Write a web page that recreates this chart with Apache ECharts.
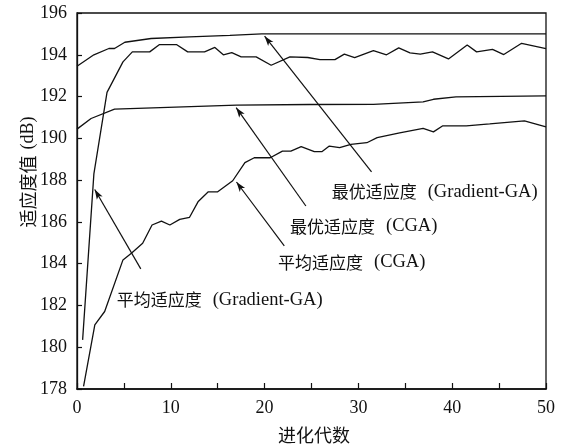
<!DOCTYPE html>
<html>
<head>
<meta charset="utf-8">
<script src="https://cdn.jsdelivr.net/npm/echarts@6/dist/echarts.min.js"></script>
<style>
html,body{margin:0;padding:0;background:#fff;}
#c{width:561px;height:446px;}
</style>
</head>
<body>
<div id="c"></div>
<script>
// ---- data (generation, fitness in dB) ----
const bestGaX = [0, 1.8, 3.4, 4.0, 5.1, 7.9, 12, 16.3, 19.7, 50];
const bestGaY = [193.45, 194.0, 194.3, 194.3, 194.6, 194.78, 194.86, 194.93, 195.0, 195.0];

const avgGaX = [0.6, 1.8, 3.2, 4.9, 5.9, 7.75, 8.8, 10.6, 11.8, 13.6, 14.7, 15.6, 16.5, 17.5, 19.1, 20.7, 22.7, 24.6, 25.9, 27.5, 28.5, 29.6, 31.6, 33.0, 34.3, 35.5, 36.6, 37.9, 39.6, 41.6, 42.6, 44.3, 45.5, 47.4, 50];
const avgGaY = [180.35, 188.3, 192.2, 193.66, 194.14, 194.14, 194.49, 194.49, 194.14, 194.14, 194.35, 194.0, 194.1, 193.9, 193.9, 193.5, 193.9, 193.87, 193.77, 193.77, 194.03, 193.86, 194.2, 194.0, 194.33, 194.09, 194.03, 194.14, 193.8, 194.47, 194.14, 194.26, 194.01, 194.55, 194.3];

const bestCgaX = [0, 1.5, 4.0, 17, 24.8, 31.6, 36.9, 38, 40.4, 50];
const bestCgaY = [190.44, 190.95, 191.4, 191.59, 191.62, 191.63, 191.75, 191.87, 191.98, 192.03];

const avgCgaX = [0.7, 1.9, 2.95, 4.9, 5.8, 7.0, 8.0, 9.0, 9.9, 10.95, 12.0, 12.9, 14.0, 15.0, 16.6, 17.9, 18.9, 20.6, 21.9, 22.8, 23.9, 25.3, 26.1, 26.9, 28.0, 29.2, 30.9, 32.0, 34.4, 36.9, 38.0, 39.0, 41.5, 44.0, 47.7, 50];
const avgCgaY = [178.13, 181.07, 181.71, 184.18, 184.5, 184.98, 185.85, 186.04, 185.85, 186.12, 186.22, 186.96, 187.44, 187.44, 187.97, 188.84, 189.07, 189.07, 189.39, 189.39, 189.6, 189.36, 189.36, 189.63, 189.55, 189.71, 189.79, 190.03, 190.26, 190.48, 190.31, 190.6, 190.6, 190.69, 190.84, 190.55];

// annotation labels and arrows (arrow tail -> tip in data units)
const labelCn = ['最优适应度', '最优适应度', '平均适应度', '平均适应度'];
const labelEn = ['(Gradient-GA)', '(CGA)', '(CGA)', '(Gradient-GA)'];
const arrowTail = [[31.4, 188.39], [24.4, 186.76], [22.1, 184.85], [6.8, 183.75]];
const arrowTip = [[20.0, 194.89], [16.97, 191.47], [17.0, 187.91], [1.89, 187.55]];

const xTicks = { min: 0, max: 50, step: 5 };
const yTicks = { min: 178, max: 196, step: 2 };
const xName = '进化代数';
const yNameCn = '适应度值';
const yNameEn = '(dB)';

function pairs(xs, ys) { return xs.map((x, i) => [x, ys[i]]); }

const SERIF = '"Liberation Serif","Times New Roman",serif';
const CJK = '"Noto Sans CJK SC","Noto Sans CJK JP",sans-serif';

const chart = echarts.init(document.getElementById('c'), null, { renderer: 'canvas' });

const lineStyle = { color: '#111', width: 1.3 };
function mkSeries(name, xs, ys) {
  return { name, type: 'line', data: pairs(xs, ys), showSymbol: false, symbol: 'none',
    lineStyle, itemStyle: { color: '#111' }, silent: true, animation: false };
}

const series = [
  mkSeries('bestGa', bestGaX, bestGaY),
  mkSeries('avgGa', avgGaX, avgGaY),
  mkSeries('bestCga', bestCgaX, bestCgaY),
  mkSeries('avgCga', avgCgaX, avgCgaY),
];
series[0].markLine = {
  silent: true, animation: false,
  symbol: ['none', 'arrow'], symbolSize: [5, 10],
  label: { show: false },
  lineStyle: { color: '#111', width: 1.2, type: 'solid' },
  emphasis: { disabled: true },
  data: arrowTail.map((t, i) => [{ coord: t }, { coord: arrowTip[i] }])
};

const labelPos = [[331.7, 191.7], [290, 226.5], [278, 262.5], [116.7, 300]];
const rich = {
  c: { fontFamily: CJK, fontSize: 17, fill: '#111', padding: [0, 11, 0, 0] },
  l: { fontFamily: SERIF, fontSize: 18.5, fill: '#111' }
};
const graphics = labelCn.map((cn, i) => ({
  type: 'text', x: labelPos[i][0], y: labelPos[i][1], silent: true,
  style: { text: '{c|' + cn + '}{l|' + labelEn[i] + '}', rich, textVerticalAlign: 'middle', textAlign: 'left', fill: '#111' }
}));
graphics.push({
  type: 'text', x: 28, y: 172, rotation: Math.PI / 2, silent: true,
  style: { text: '{c|' + yNameCn + '}{l|' + yNameEn + '}',
    rich: { c: { fontFamily: CJK, fontSize: 18, fill: '#111', padding: [0, 6, 0, 0] }, l: { fontFamily: SERIF, fontSize: 18, fill: '#111' } },
    textAlign: 'center', textVerticalAlign: 'middle', fill: '#111' }
});
graphics.push({
  type: 'text', x: 314, y: 435, silent: true,
  style: { text: xName, font: '18px ' + CJK, textAlign: 'center', textVerticalAlign: 'middle', fill: '#111' }
});

chart.setOption({
  animation: false,
  backgroundColor: '#fff',
  grid: { left: 77, top: 13, width: 469, height: 376, show: true, borderColor: '#111', borderWidth: 1.3, backgroundColor: 'transparent' },
  xAxis: {
    type: 'value', min: xTicks.min, max: xTicks.max, interval: xTicks.step,
    axisLine: { show: true, lineStyle: { color: '#111', width: 1.6 } },
    axisTick: { show: true, inside: true, length: 6, lineStyle: { color: '#111', width: 1.2 } },
    axisLabel: { margin: 10, color: '#111', fontFamily: SERIF, fontSize: 18,
      formatter: v => (v % 10 === 0 ? String(v) : '') },
    splitLine: { show: false }
  },
  yAxis: {
    type: 'value', min: yTicks.min, max: yTicks.max, interval: yTicks.step,
    axisLine: { show: true, lineStyle: { color: '#111', width: 1.3 } },
    axisTick: { show: true, inside: true, length: 5, lineStyle: { color: '#111', width: 1.2 } },
    axisLabel: { margin: 10, color: '#111', fontFamily: SERIF, fontSize: 18 },
    splitLine: { show: false }
  },
  series,
  graphic: graphics
});
</script>
</body>
</html>
